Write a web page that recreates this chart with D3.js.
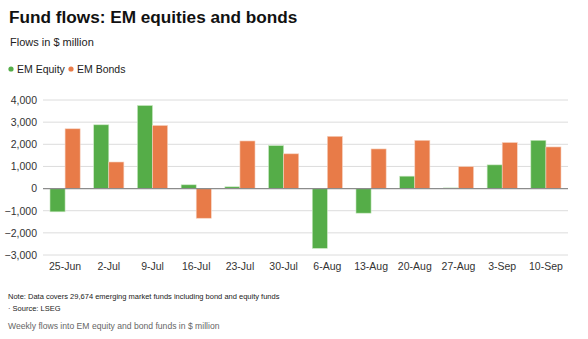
<!DOCTYPE html>
<html><head><meta charset="utf-8">
<script src="https://cdn.jsdelivr.net/npm/d3@7"></script>
<style>
body{margin:0;background:#fff;}
svg{display:block;font-family:"Liberation Sans",Arial,Helvetica,sans-serif;}
</style></head>
<body><svg id="c" width="588" height="339"></svg>
<script>
const categories = ["25-Jun","2-Jul","9-Jul","16-Jul","23-Jul","30-Jul","6-Aug","13-Aug","20-Aug","27-Aug","3-Sep","10-Sep"];
const equity = [-1050, 2880, 3750, 170, 80, 1940, -2700, -1110, 560, 30, 1070, 2180];
const bonds = [2700, 1200, 2850, -1340, 2150, 1570, 2360, 1790, 2180, 990, 2080, 1880];
const seriesNames = ["EM Equity","EM Bonds"];
const seriesColors = ["#55ad48","#e87b48"];
const yTicks = [-3000,-2000,-1000,0,1000,2000,3000,4000];

const svg = d3.select("#c");
const M = {left:43, right:568, top:100, bottom:255};

const x = d3.scaleBand().domain(categories).range([M.left, M.right]).paddingInner(0.31).paddingOuter(0.16);
const xs = d3.scaleBand().domain(seriesNames).range([0, x.bandwidth()]);
const y = d3.scaleLinear().domain([-3000,4000]).range([M.bottom, M.top]);

svg.append("text").attr("x",9).attr("y",23).attr("font-size",17.2).attr("font-weight","bold").attr("fill","#111").text("Fund flows: EM equities and bonds");
svg.append("text").attr("x",10).attr("y",46).attr("font-size",11).attr("fill","#222").text("Flows in $ million");

const leg = svg.append("g");
seriesNames.forEach((n,i)=>{
  const g = leg.append("g");
  g.append("circle").attr("cx", i===0?11:71).attr("cy",69).attr("r",2.6).attr("fill",seriesColors[i]);
  g.append("text").attr("x", i===0?17:77).attr("y",72.5).attr("font-size",10.5).attr("fill","#222").text(n);
});

const yAxis = d3.axisLeft(y).tickValues(yTicks).tickFormat(d=> d<0 ? "\u2212"+d3.format(",")(-d) : d3.format(",")(d)).tickSize(0).tickPadding(6);
const ga = svg.append("g").attr("transform",`translate(${M.left},0)`).call(yAxis);
ga.select(".domain").remove();
ga.selectAll("text").attr("font-size",10.5).attr("fill","#333").attr("font-family","Liberation Sans, Arial, sans-serif");
svg.append("g").selectAll("line").data(yTicks.filter(d=>d!==0)).join("line")
  .attr("x1",M.left).attr("x2",M.right).attr("y1",d=>y(d)).attr("y2",d=>y(d))
  .attr("stroke","#dcdcdc").attr("stroke-width",1);

const data = categories.map((c,i)=>({c, vals:[equity[i], bonds[i]]}));
const groups = svg.append("g").selectAll("g").data(data).join("g").attr("transform",d=>`translate(${x(d.c)},0)`);
groups.selectAll("rect").data(d=>d.vals.map((v,i)=>({v, s:seriesNames[i], i}))).join("rect")
  .attr("x",d=>xs(d.s)).attr("width",xs.bandwidth())
  .attr("y",d=>y(Math.max(0,d.v))).attr("height",d=>Math.abs(y(d.v)-y(0)))
  .attr("fill",d=>seriesColors[d.i]).attr("stroke",d=>d.i===0?"#c9e8c2":"#f6d3c1").attr("stroke-width",0.6);

svg.append("line").attr("x1",M.left).attr("x2",M.right).attr("y1",y(0)).attr("y2",y(0)).attr("stroke","#8c8c8c").attr("stroke-width",1.2);

const xAxis = d3.axisBottom(x).tickSize(0).tickPadding(0);
const gx = svg.append("g").attr("transform",`translate(0,${M.bottom+8})`).call(xAxis);
gx.select(".domain").remove();
gx.selectAll("text").attr("font-size",10.5).attr("fill","#333").attr("font-family","Liberation Sans, Arial, sans-serif");

svg.append("text").attr("x",8).attr("y",299).attr("font-size",7.5).attr("fill","#222").text("Note: Data covers 29,674 emerging market funds including bond and equity funds");
svg.append("text").attr("x",8).attr("y",311).attr("font-size",7.5).attr("fill","#222").text("\u00b7 Source: LSEG");
svg.append("text").attr("x",8).attr("y",329).attr("font-size",8.6).attr("fill","#666").text("Weekly flows into EM equity and bond funds in $ million");
</script></body></html>
